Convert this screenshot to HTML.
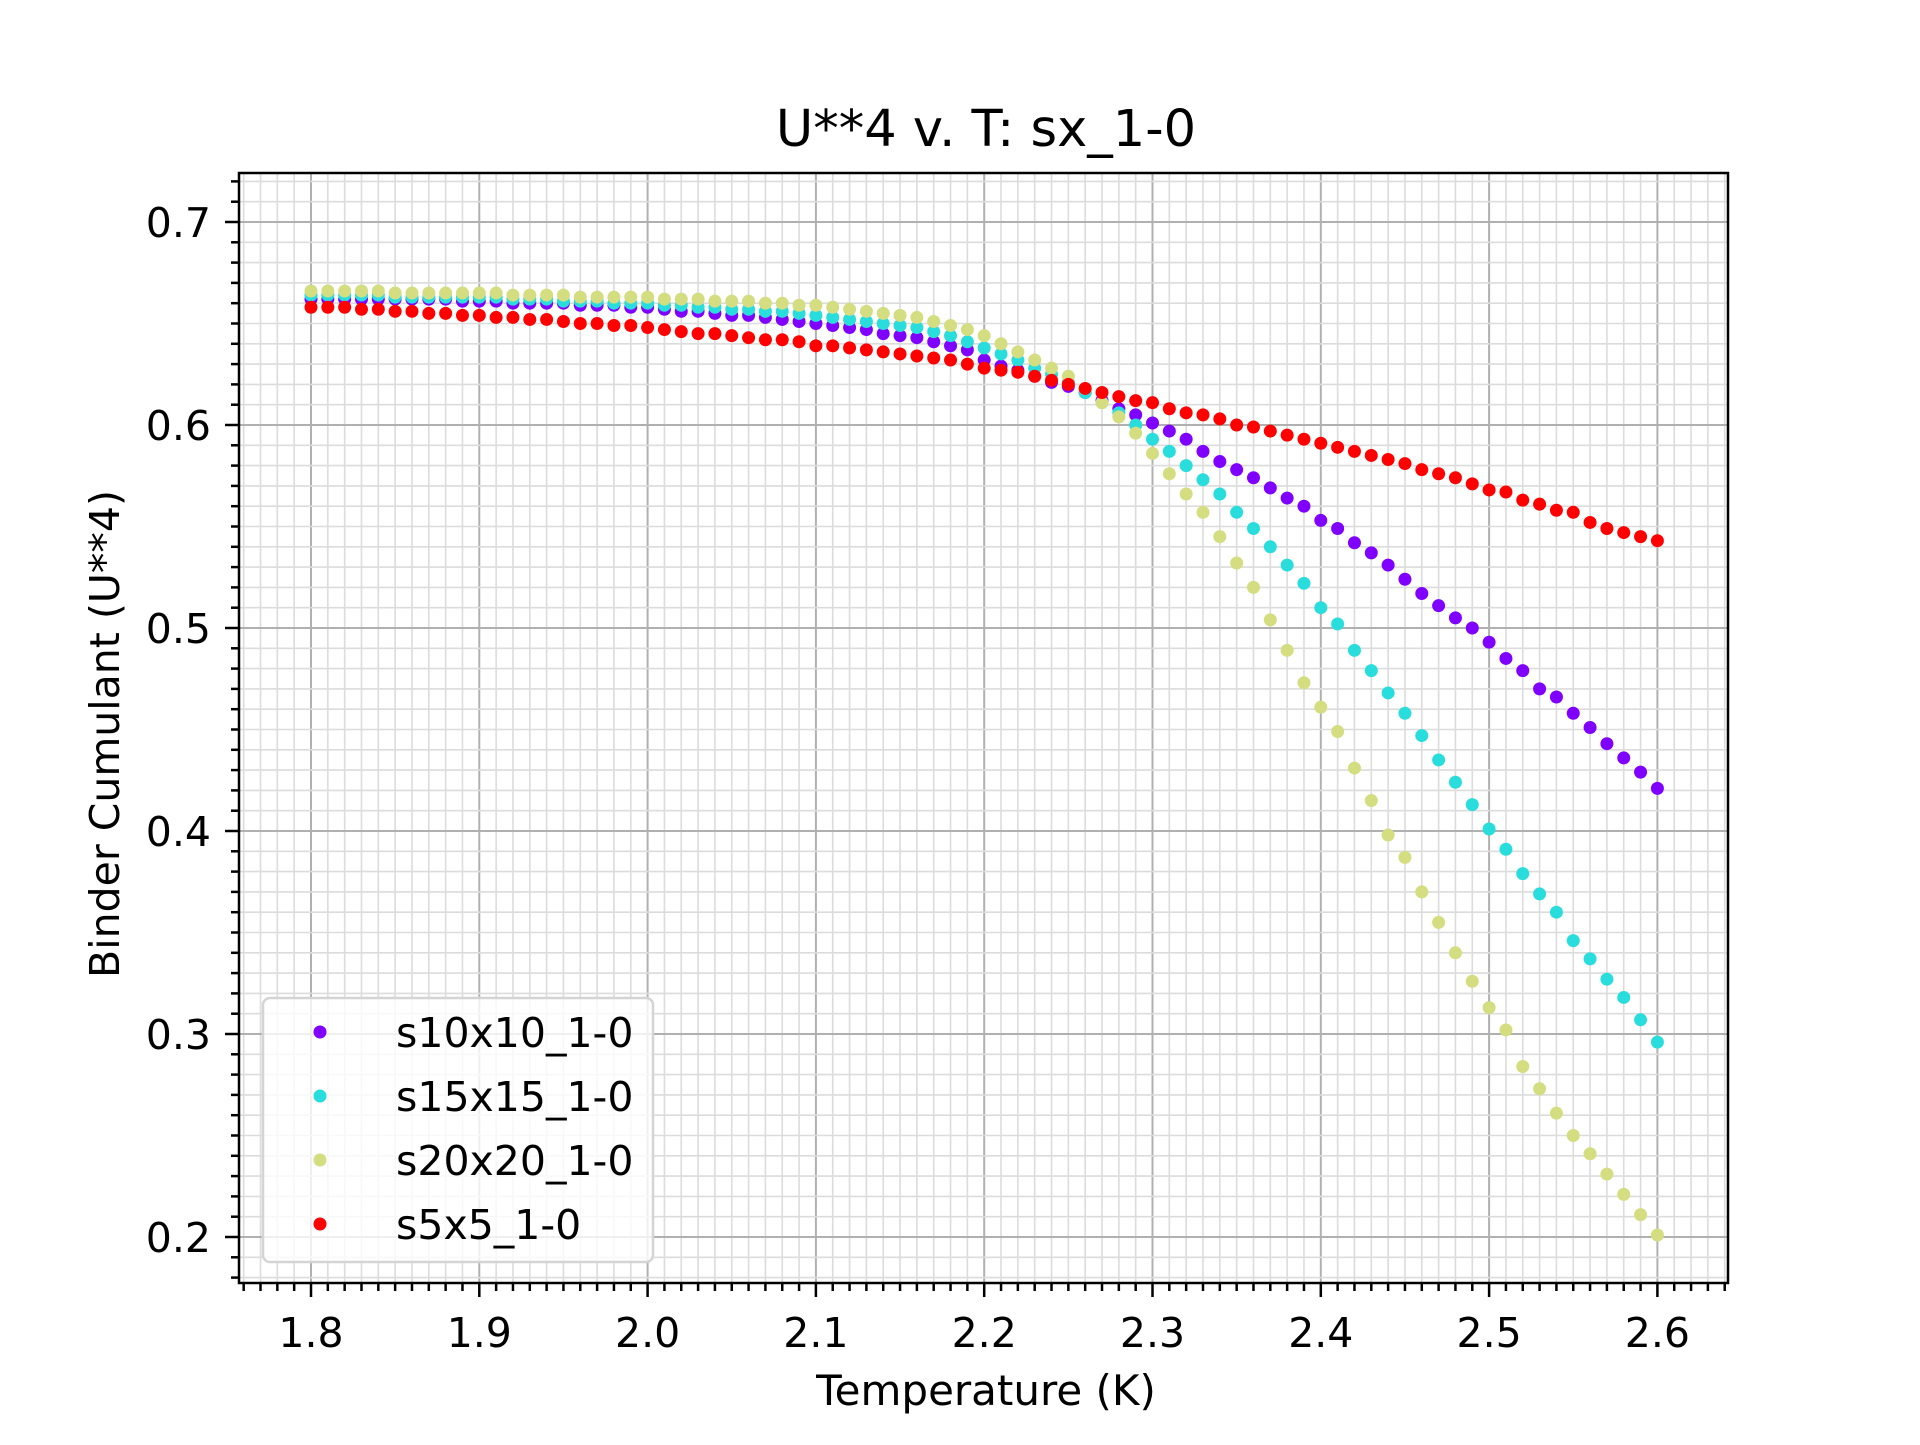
<!DOCTYPE html>
<html><head><meta charset="utf-8"><style>
html,body{margin:0;padding:0;background:#fff;}
svg text{font-family:"DejaVu Sans","Liberation Sans",sans-serif;fill:#000;}
</style></head><body>
<svg id="chart" width="1920" height="1440" viewBox="0 0 1920 1440" xmlns="http://www.w3.org/2000/svg">
<rect x="0" y="0" width="1920" height="1440" fill="#fff"/>
<g id="grid"></g>
<g id="marks"></g>
<g id="axes"></g>
<text x="986" y="146" font-size="51" text-anchor="middle">U**4 v. T: sx_1-0</text>
<text x="986" y="1405" font-size="42" text-anchor="middle">Temperature (K)</text>
<text x="0" y="0" font-size="41" text-anchor="middle" transform="translate(119,734) rotate(-90)">Binder Cumulant (U**4)</text>
<g id="legend"></g>
</svg>
<script>
const temps = [];
for (let i = 0; i <= 80; i++) temps.push(1.8 + i * 0.01);
const seriesNames = ["s10x10_1-0", "s15x15_1-0", "s20x20_1-0", "s5x5_1-0"];
const s10 = [.662,.662,.662,.662,.662,.662,.662,.662,.662,.661,
.661,.661,.660,.660,.660,.660,.659,.659,.659,.658,
.658,.657,.656,.656,.655,.654,.654,.653,.652,.651,
.650,.649,.648,.647,.645,.644,.643,.641,.639,.637,
.632,.629,.627,.624,.621,.619,.616,.612,.608,.605,
.601,.597,.593,.587,.582,.578,.574,.569,.564,.560,
.553,.549,.542,.537,.531,.524,.517,.511,.505,.500,
.493,.485,.479,.470,.466,.458,.451,.443,.436,.429,.421];
const s15 = [.664,.664,.664,.664,.664,.663,.663,.663,.663,.663,
.663,.663,.662,.662,.662,.661,.661,.661,.660,.660,
.660,.659,.659,.658,.658,.657,.657,.656,.656,.655,
.654,.653,.652,.651,.650,.649,.648,.646,.644,.641,
.638,.635,.632,.628,.625,.621,.616,.611,.606,.600,
.593,.587,.580,.573,.566,.557,.549,.540,.531,.522,
.510,.502,.489,.479,.468,.458,.447,.435,.424,.413,
.401,.391,.379,.369,.360,.346,.337,.327,.318,.307,.296];
const s20 = [.666,.666,.666,.666,.666,.665,.665,.665,.665,.665,
.665,.665,.664,.664,.664,.664,.663,.663,.663,.663,
.663,.662,.662,.662,.661,.661,.661,.660,.660,.659,
.659,.658,.657,.656,.655,.654,.653,.651,.649,.647,
.644,.640,.636,.632,.628,.624,.618,.611,.604,.596,
.586,.576,.566,.557,.545,.532,.520,.504,.489,.473,
.461,.449,.431,.415,.398,.387,.370,.355,.340,.326,
.313,.302,.284,.273,.261,.250,.241,.231,.221,.211,.201];
const s5 = [.658,.658,.658,.657,.657,.656,.656,.655,.655,.654,
.654,.653,.653,.652,.652,.651,.650,.650,.649,.649,
.648,.647,.646,.645,.645,.644,.643,.642,.642,.641,
.639,.639,.638,.637,.636,.635,.634,.633,.632,.630,
.628,.627,.626,.624,.622,.620,.618,.616,.614,.612,
.611,.608,.606,.605,.603,.600,.599,.597,.595,.593,
.591,.589,.587,.585,.583,.581,.578,.576,.574,.571,
.568,.567,.563,.561,.558,.557,.552,.549,.547,.545,.543];
const xTickLabels = ["1.8","1.9","2.0","2.1","2.2","2.3","2.4","2.5","2.6"];
const yTickLabels = ["0.2","0.3","0.4","0.5","0.6","0.7"];

const NS = "http://www.w3.org/2000/svg";
const L = 239, R = 1728, T = 173, B = 1283;
const xs = v => 311 + (v - 1.8) * 1683;
const ys = v => 222 + (0.7 - v) * 2030;
function mk(tag, attrs, parent) {
  const e = document.createElementNS(NS, tag);
  for (const k in attrs) e.setAttribute(k, attrs[k]);
  parent.appendChild(e);
  return e;
}
const grid = document.getElementById('grid');
const axes = document.getElementById('axes');
const marks = document.getElementById('marks');
const legend = document.getElementById('legend');

for (let i = -4; i <= 84; i++) {
  const v = 1.8 + i * 0.01; const x = xs(v);
  if (x < L || x > R) continue;
  const major = i % 10 === 0;
  const ln = mk('line', {x1:x, x2:x, y1:T, y2:B, stroke: major ? '#b0b0b0' : '#dcdcdc', 'stroke-width': major ? 2 : 1.6}, grid);
  
  
  const tk = mk('line', {x1:x, x2:x, y1:B, y2:B + (major ? 14 : 8), stroke:'#000', 'stroke-width':2.5}, axes);
  
  
}
for (let i = 17; i <= 73; i++) {
  const v = i * 0.01; const y = ys(v);
  if (y < T || y > B) continue;
  const major = i % 10 === 0;
  const ln = mk('line', {x1:L, x2:R, y1:y, y2:y, stroke: major ? '#b0b0b0' : '#dcdcdc', 'stroke-width': major ? 2 : 1.6}, grid);
  
  
  const tk = mk('line', {x1:L - (major ? 14 : 8), x2:L, y1:y, y2:y, stroke:'#000', 'stroke-width':2.5}, axes);
  
  
}
xTickLabels.forEach(s => {
  const t = mk('text', {x: xs(parseFloat(s)), y: 1347, 'font-size': 41, 'text-anchor': 'middle'}, axes);
  t.textContent = s;
  
  
});
yTickLabels.forEach(s => {
  const t = mk('text', {x: 211, y: ys(parseFloat(s)) + 15, 'font-size': 41, 'text-anchor': 'end'}, axes);
  t.textContent = s;
  
  
});
const frame = mk('rect', {x:L, y:T, width:R-L, height:B-T, fill:'none', stroke:'#000', 'stroke-width':2.5}, axes);



const colors = ['#8000ff', '#2adddd', '#d4dd80', '#ff0000'];
const series = [s10, s15, s20, s5];
series.forEach((arr, si) => {
  const g = mk('g', {}, marks);
  
  
  arr.forEach((v, i) => {
    const c = mk('circle', {cx: xs(temps[i]), cy: ys(v), r: 6.5, fill: colors[si]}, g);
    
    
  });
});

const box = mk('rect', {x:263, y:998, width:390, height:264, rx:7, fill:'rgba(255,255,255,0.8)', stroke:'#d4d4d4', 'stroke-width':2.5}, legend);


seriesNames.forEach((n, i) => {
  const y = 1032 + i * 64;
  const c = mk('circle', {cx: 320, cy: y, r: 6.5, fill: colors[i]}, legend);
  
  
  const t = mk('text', {x: 396, y: y + 15, 'font-size': 41}, legend);
  t.textContent = n;
  
  
});
</script>
</body></html>
